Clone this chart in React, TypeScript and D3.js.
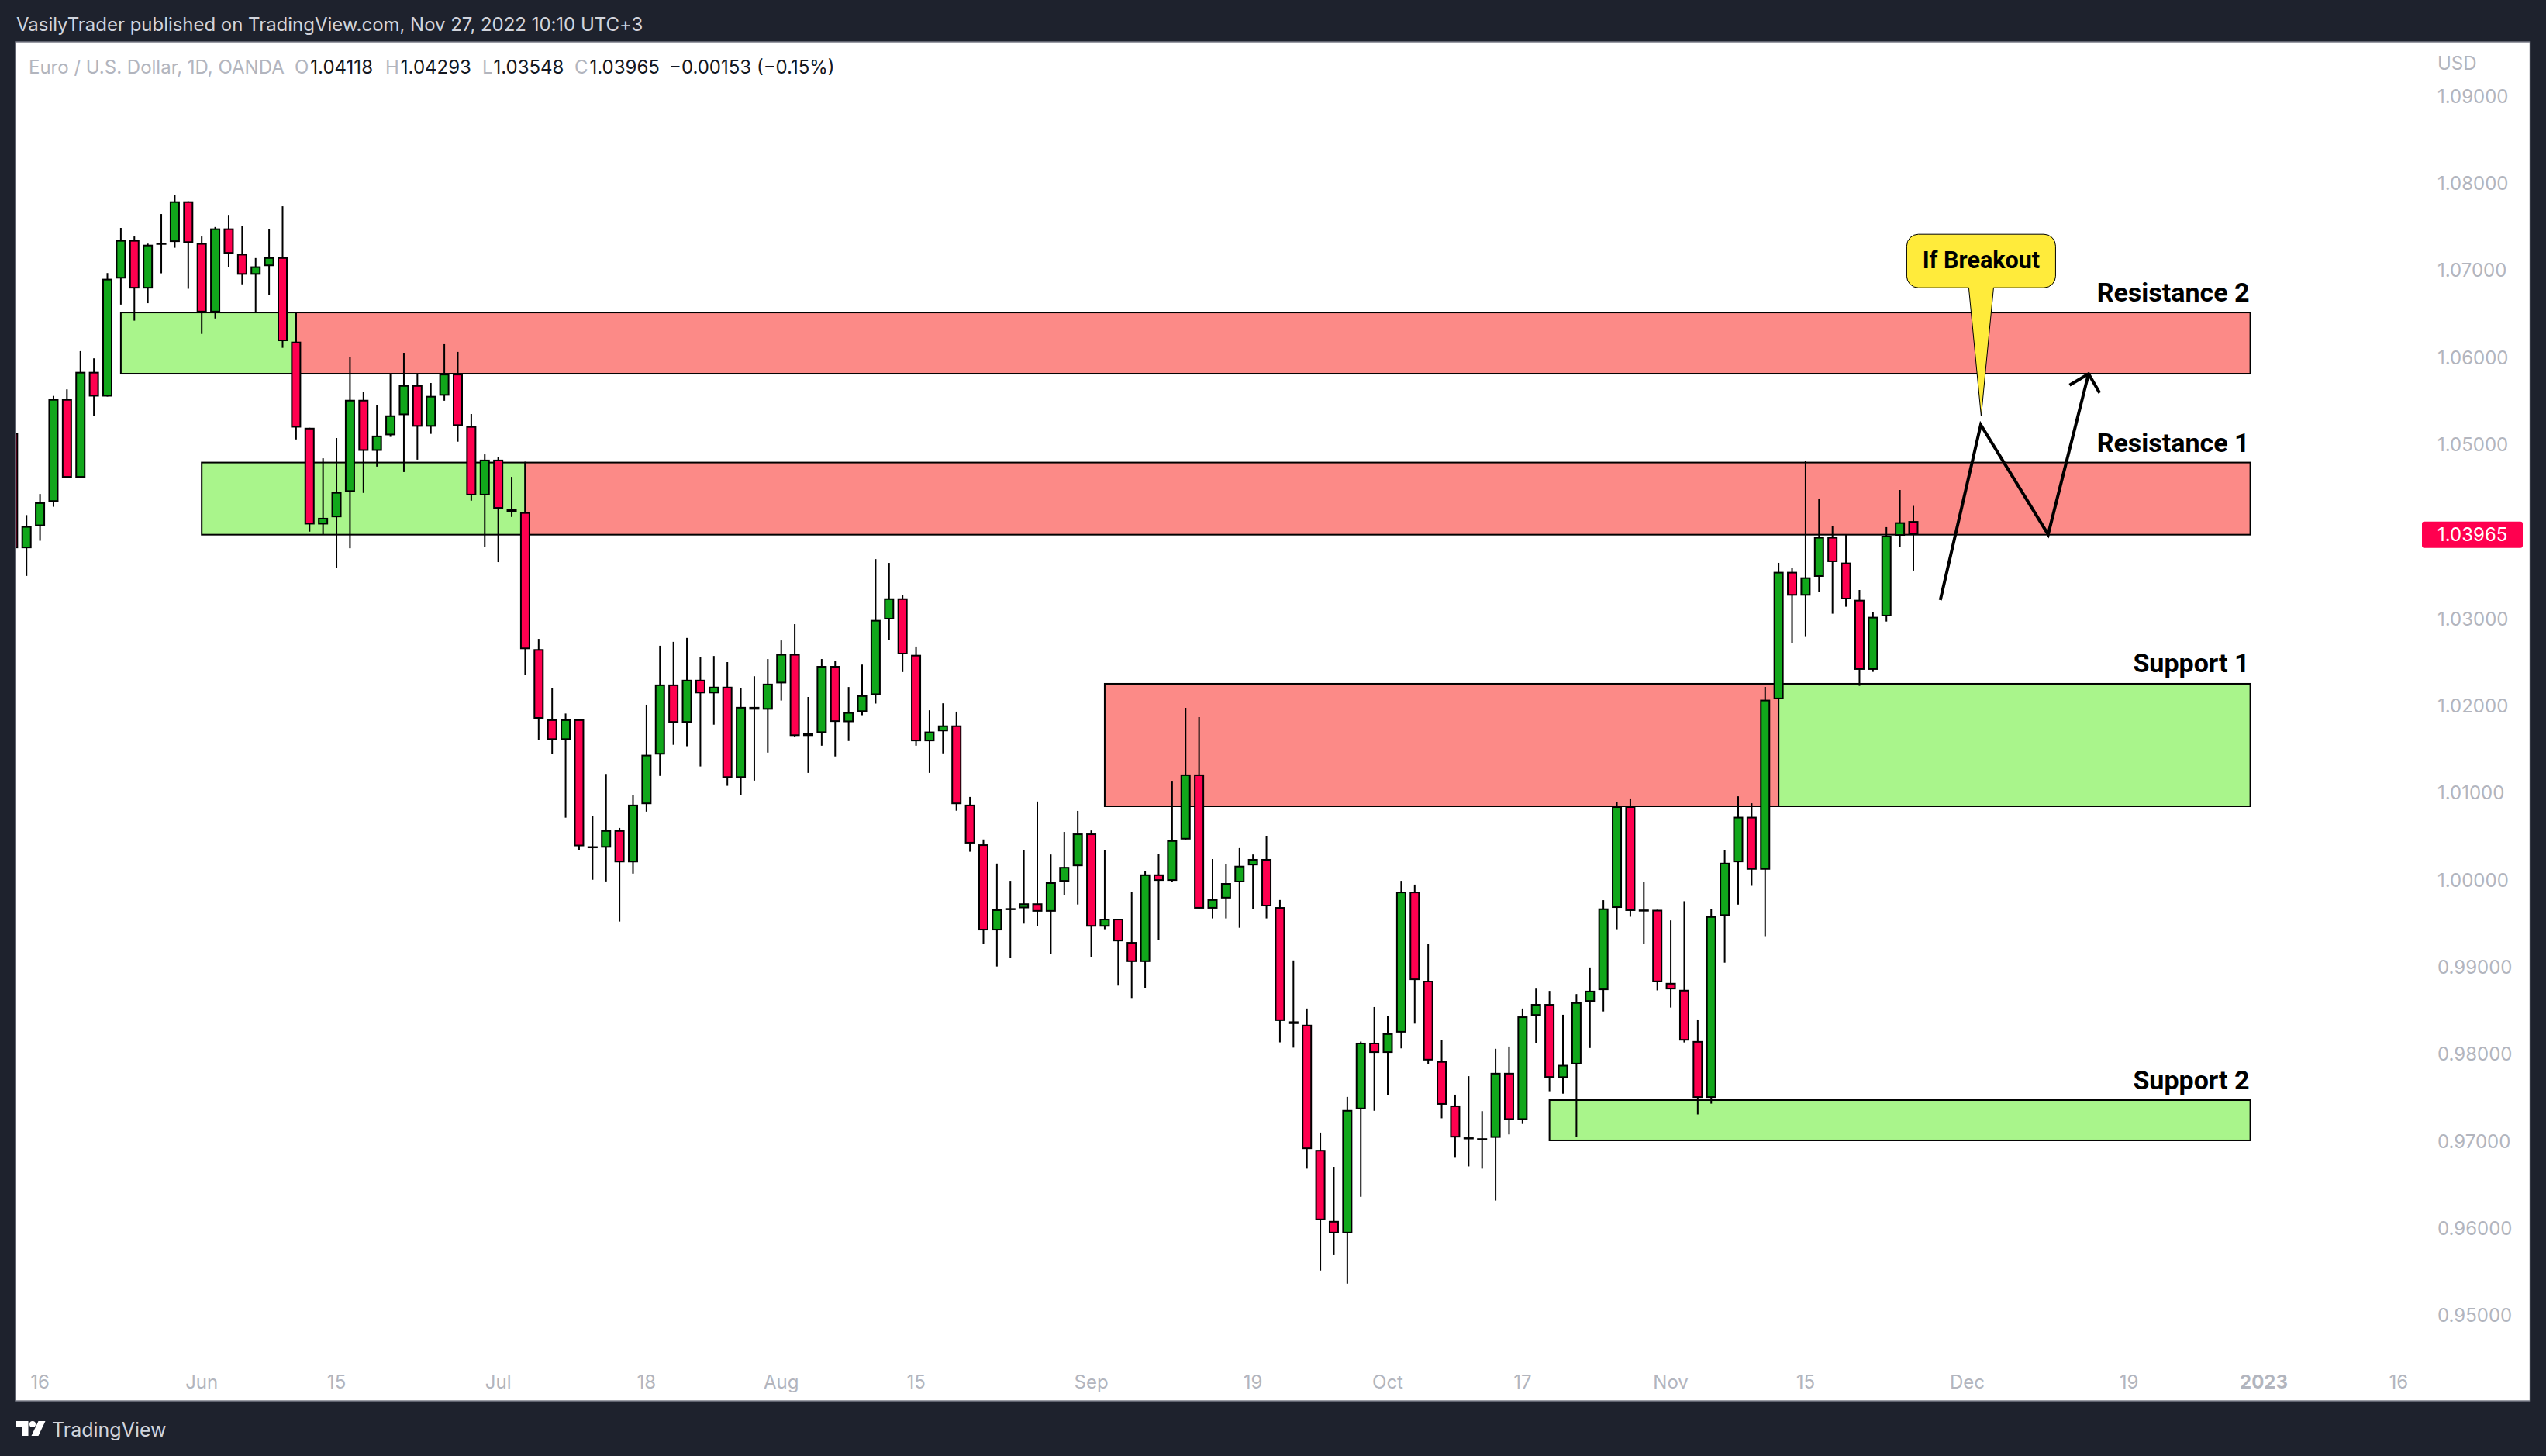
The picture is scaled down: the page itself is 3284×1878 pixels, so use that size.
// EURUSD daily chart with supply / demand zones
import React, { useEffect, useRef } from 'react';
import * as d3 from 'd3';

const WIDTH = 3284;
const HEIGHT = 1878;
const UI_FONT = 'Inter, Roboto, sans-serif';
const LABEL_FONT = 'Roboto, Inter, sans-serif';

// daily candles, first one is only half visible at the left edge (day -1)
const opens = [
  1.05134, 1.03805, 1.0406, 1.0434, 1.05523, 1.04618, 1.05836, 1.05552, 1.06911, 1.07354,
  1.06796, 1.07303, 1.07332, 1.078, 1.07319, 1.06522, 1.07488, 1.07195, 1.06955, 1.07054,
  1.07156, 1.06184, 1.05192, 1.04079, 1.04162, 1.04455, 1.05514, 1.04927, 1.05106, 1.05338,
  1.05683, 1.05205, 1.05562, 1.05814, 1.05211, 1.04414, 1.04825, 1.04254, 1.0422, 1.02643,
  1.01834, 1.01598, 1.01834, 1.00373, 1.00357, 1.00558, 1.00188, 1.00858, 1.01429, 1.02236,
  1.01796, 1.0229, 1.02134, 1.0221, 1.01161, 1.01977, 1.01946, 1.02249, 1.02587, 1.01643,
  1.01678, 1.02449, 1.01802, 1.0192, 1.02115, 1.02985, 1.03228, 1.02577, 1.01582, 1.01697,
  1.01764, 1.00852, 1.00395, 0.99404, 0.9965, 0.99659, 0.99715, 0.9962, 0.99966, 1.00144,
  1.0052, 0.99447, 0.99538, 0.9927, 0.9904, 1.00049, 0.99975, 1.00451, 1.012, 0.99655,
  0.99772, 0.99958, 1.00153, 1.00226, 0.99672, 0.98356, 0.98317, 0.96876, 0.96058, 0.95915,
  0.97344, 0.9811, 0.97993, 0.98227, 0.9985, 0.98824, 0.97898, 0.97387, 0.9702, 0.9701,
  0.97015, 0.97763, 0.97222, 0.98421, 0.98556, 0.97705, 0.97861, 0.98582, 0.98716, 0.99663,
  1.00833, 0.99644, 0.99641, 0.98799, 0.98719, 0.98129, 0.97475, 0.99571, 1.00189, 1.00712,
  1.00103, 1.02066, 1.03533, 1.03259, 1.03476, 1.03935, 1.0364, 1.03211, 1.02405, 1.03021,
  1.03949, 1.04118,
];
const closes = [
  1.03805, 1.0406, 1.04334, 1.05523, 1.04618, 1.05836, 1.05552, 1.06908, 1.07354, 1.06796,
  1.073, 1.07322, 1.078, 1.07322, 1.06522, 1.07488, 1.07198, 1.06955, 1.07051, 1.07156,
  1.0619, 1.05195, 1.04079, 1.04155, 1.04452, 1.05514, 1.04927, 1.05102, 1.05335, 1.05683,
  1.05205, 1.05559, 1.05814, 1.05214, 1.04414, 1.04825, 1.04261, 1.04222, 1.02643, 1.01842,
  1.01598, 1.01834, 1.00373, 1.00354, 1.00558, 1.00188, 1.00852, 1.01426, 1.02236, 1.01796,
  1.0229, 1.02134, 1.0221, 1.01161, 1.01977, 1.01946, 1.02245, 1.02587, 1.01643, 1.01678,
  1.02449, 1.01805, 1.01917, 1.02111, 1.02979, 1.03228, 1.02583, 1.01582, 1.01694, 1.01764,
  1.00858, 1.00405, 0.99404, 0.99646, 0.9966, 0.99715, 0.9962, 0.99958, 1.00135, 1.0052,
  0.99447, 0.99538, 0.99278, 0.9904, 1.00049, 0.99975, 1.00442, 1.012, 0.99655, 0.99763,
  0.99949, 1.00148, 1.00226, 0.99681, 0.98361, 0.98326, 0.96885, 0.96067, 0.95915, 0.97335,
  0.9811, 0.97993, 0.98218, 0.9985, 0.98832, 0.97906, 0.97396, 0.97019, 0.9701, 0.97006,
  0.97763, 0.97222, 0.98413, 0.98556, 0.97707, 0.97855, 0.98576, 0.98709, 0.99657, 1.00833,
  0.99628, 0.99625, 0.98808, 0.98725, 0.98135, 0.97475, 0.99567, 1.00183, 1.00712, 1.00103,
  1.0206, 1.03533, 1.03259, 1.0347, 1.03935, 1.03646, 1.03217, 1.02405, 1.03015, 1.03949,
  1.04104, 1.03965,
];
const highs = [
  1.05134, 1.04187, 1.0443, 1.05559, 1.05635, 1.06075, 1.05992, 1.06974, 1.07494, 1.07395,
  1.07313, 1.07654, 1.07877, 1.078, 1.07395, 1.07504, 1.07644, 1.0752, 1.07147, 1.07485,
  1.07743, 1.06522, 1.05192, 1.04841, 1.05074, 1.06011, 1.0561, 1.05457, 1.05814, 1.06056,
  1.05814, 1.05708, 1.06155, 1.06066, 1.05351, 1.04886, 1.04851, 1.04627, 1.0422, 1.02761,
  1.02197, 1.01901, 1.01834, 1.00724, 1.01206, 1.00584, 1.00967, 1.02003, 1.02682, 1.02727,
  1.02772, 1.02548, 1.02564, 1.02494, 1.02197, 1.02331, 1.02529, 1.02743, 1.02931, 1.02092,
  1.02529, 1.0251, 1.02207, 1.02465, 1.0368, 1.03636, 1.03263, 1.02673, 1.01939, 1.02019,
  1.01923, 1.00941, 1.00451, 1.00174, 0.99975, 1.00326, 1.00888, 1.00278, 1.00538, 1.0078,
  1.00555, 1.00326, 0.99538, 0.9985, 1.00092, 1.00287, 1.01118, 1.01967, 1.0186, 1.00226,
  1.00165, 1.00352, 1.00278, 1.00494, 0.99754, 0.99058, 0.98504, 0.97075, 0.96681, 0.97486,
  0.98123, 0.98521, 0.98421, 0.99975, 0.99932, 0.99244, 0.98144, 0.97512, 0.97725, 0.97322,
  0.9804, 0.98066, 0.98504, 0.98733, 0.98707, 0.98432, 0.98671, 0.98977, 0.99752, 1.00878,
  1.00923, 0.99966, 0.99641, 0.99519, 0.9974, 0.98378, 0.99647, 1.00333, 1.00948, 1.00868,
  1.02208, 1.03637, 1.0358, 1.04815, 1.04378, 1.04065, 1.03961, 1.03324, 1.03074, 1.04048,
  1.04476, 1.04293,
];
const lows = [
  1.03805, 1.03486, 1.03891, 1.04283, 1.04618, 1.04618, 1.05326, 1.05552, 1.06611, 1.06426,
  1.06627, 1.06971, 1.07265, 1.06793, 1.06273, 1.06451, 1.07041, 1.06844, 1.06522, 1.06719,
  1.06113, 1.05058, 1.03996, 1.03958, 1.03581, 1.03805, 1.04442, 1.04745, 1.05087, 1.04682,
  1.04825, 1.05122, 1.05504, 1.05032, 1.04353, 1.03817, 1.03645, 1.04165, 1.02345, 1.01601,
  1.01435, 1.00702, 1.00326, 0.99987, 0.99968, 0.99506, 1.00058, 1.00772, 1.01183, 1.01541,
  1.01525, 1.01292, 1.01773, 1.01069, 1.0096, 1.01129, 1.01451, 1.02051, 1.0163, 1.01218,
  1.01531, 1.01407, 1.01585, 1.01882, 1.02016, 1.02746, 1.02379, 1.01531, 1.01218, 1.01442,
  1.00782, 1.0031, 0.99248, 0.98988, 0.99083, 0.99482, 0.99456, 0.99131, 0.99811, 0.99702,
  0.99096, 0.99417, 0.98768, 0.98625, 0.98737, 0.99291, 0.99958, 1.00451, 0.99655, 0.99542,
  0.99542, 0.99434, 0.9965, 0.99542, 0.98114, 0.98053, 0.9666, 0.95487, 0.95664, 0.95335,
  0.96335, 0.97326, 0.97508, 0.98045, 0.9833, 0.97863, 0.9724, 0.96794, 0.96686, 0.9666,
  0.96292, 0.97054, 0.97175, 0.9811, 0.97551, 0.97523, 0.97022, 0.98049, 0.9847, 0.99417,
  0.99561, 0.99248, 0.98713, 0.98515, 0.98113, 0.97284, 0.97408, 0.99032, 0.99701, 0.99918,
  0.99338, 1.02066, 1.02711, 1.02792, 1.03301, 1.03051, 1.03131, 1.0222, 1.02381, 1.02961,
  1.03818, 1.03548,
];
const FIRST_DAY = -1;

// drawn zones: start day, end day, top price, bottom price, buy or sell colour
const zoneStarts = [7, 20, 13, 37, 80, 130, 113];
const zoneEnds = [20, 165, 37, 165, 130, 165, 165];
const zoneTops = [1.0652, 1.0652, 1.04792, 1.04792, 1.02244, 1.02244, 0.97449];
const zoneBottoms = [1.05815, 1.05815, 1.03961, 1.03961, 1.00833, 1.00833, 0.96985];
const zoneKinds = ['buy', 'sell', 'buy', 'sell', 'sell', 'buy', 'buy'];

const zoneLabels = ['Resistance 2', 'Resistance 1', 'Support 1', 'Support 2'];
const zoneLabelPrices = [1.06755, 1.05021, 1.02485, 0.97686];

// hand drawn forecast path
const pathDays = [142, 145, 150, 153];
const pathPrices = [1.03208, 1.05226, 1.03964, 1.05813];
const arrowDays = [151.59, 153, 153.82];
const arrowPrices = [1.05684, 1.05813, 1.05595];

const calloutDay = 145.03;
const calloutPrice = 1.05327;
const calloutText = 'If Breakout';

const priceTicks = [1.09, 1.08, 1.07, 1.06, 1.05, 1.03, 1.02, 1.01, 1.0, 0.99, 0.98, 0.97, 0.96, 0.95];
const lastPrice = 1.03965;

const timeTickDays = [1, 13, 23, 35, 46, 56, 66, 79, 91, 101, 111, 122, 132, 144, 156, 166, 176];
const timeTickLabels = ['16', 'Jun', '15', 'Jul', '18', 'Aug', '15', 'Sep', '19', 'Oct', '17', 'Nov', '15', 'Dec', '19', '2023', '16'];

const publishedText = 'VasilyTrader published on TradingView.com, Nov 27, 2022 10:10 UTC+3';
const symbolText = 'Euro / U.S. Dollar, 1D, OANDA';
const ohlcLetters = ['O', 'H', 'L', 'C'];
const ohlcValues = ['1.04118', '1.04293', '1.03548', '1.03965'];
const changeText = '\u22120.00153 (\u22120.15%)';

const COLORS = {
  frame: '#1e222d',
  border: '#787b86',
  axis: '#b2b5be',
  up: '#11a71b',
  down: '#ff004f',
  buy: '#a9f58b',
  sell: '#fc8a87',
  callout: '#ffeb3b',
};

const App: React.FC = () => {
  const svgRef = useRef<SVGSVGElement>(null);

  useEffect(() => {
    const svg = d3.select(svgRef.current);
    svg.selectAll('*').remove();

    const panel = { left: 20, top: 54, right: 3263.5, bottom: 1807 };

    // Scales
    const x = d3.scaleLinear().domain([0, 165]).range([34.2, 2902.6]);
    const y = d3.scaleLinear().domain([1.09, 0.95]).range([125.3, 1693.3]);
    // the axis labels run on a slightly wider spacing than the candle readings
    const yAxisScale = d3.scaleLinear().domain([1.09, 0.95]).range([125, 1697.7]);

    // Frame and panel
    svg.append('rect').attr('width', WIDTH).attr('height', HEIGHT).attr('fill', COLORS.frame);
    svg.append('rect')
      .attr('x', panel.left)
      .attr('y', panel.top)
      .attr('width', panel.right - panel.left)
      .attr('height', panel.bottom - panel.top)
      .attr('fill', '#fff')
      .attr('stroke', COLORS.border)
      .attr('stroke-width', 1.5);

    svg.append('clipPath')
      .attr('id', 'panel-clip')
      .append('rect')
      .attr('x', panel.left + 1)
      .attr('y', panel.top)
      .attr('width', panel.right - panel.left)
      .attr('height', panel.bottom - panel.top);

    const plot = svg.append('g').attr('clip-path', 'url(#panel-clip)');

    // Zones sit behind the candles
    plot.selectAll('.zone')
      .data(zoneStarts.map((_, i) => i))
      .enter()
      .append('rect')
      .attr('class', 'zone')
      .attr('x', i => x(zoneStarts[i]))
      .attr('y', i => y(zoneTops[i]))
      .attr('width', i => x(zoneEnds[i]) - x(zoneStarts[i]))
      .attr('height', i => y(zoneBottoms[i]) - y(zoneTops[i]))
      .attr('fill', i => (zoneKinds[i] === 'buy' ? COLORS.buy : COLORS.sell))
      .attr('stroke', '#000')
      .attr('stroke-width', 2);

    // Candles
    const candles = plot.selectAll('.candle')
      .data(opens.map((_, i) => i))
      .enter()
      .append('g')
      .attr('class', 'candle')
      .attr('transform', i => `translate(${x(i + FIRST_DAY)}, 0)`);

    candles.append('line')
      .attr('y1', i => y(highs[i]))
      .attr('y2', i => y(lows[i]))
      .attr('stroke', '#000')
      .attr('stroke-width', 2);

    candles.append('rect')
      .attr('x', -5.5)
      .attr('width', 11)
      .attr('y', i => y(Math.max(opens[i], closes[i])) + 1)
      .attr('height', i => Math.max(0.5, Math.abs(y(opens[i]) - y(closes[i])) - 2))
      .attr('fill', i => (closes[i] >= opens[i] ? COLORS.up : COLORS.down))
      .attr('stroke', '#000')
      .attr('stroke-width', 2);

    // Forecast path and arrow head
    const pathLine = d3.line<[number, number]>()
      .x(d => x(d[0]))
      .y(d => y(d[1]));

    plot.append('path')
      .attr('d', pathLine(pathDays.map((d, i) => [d, pathPrices[i]] as [number, number])))
      .attr('fill', 'none')
      .attr('stroke', '#000')
      .attr('stroke-width', 4);

    plot.append('path')
      .attr('d', pathLine(arrowDays.map((d, i) => [d, arrowPrices[i]] as [number, number])))
      .attr('fill', 'none')
      .attr('stroke', '#000')
      .attr('stroke-width', 4);

    // Zone labels
    plot.selectAll('.zone-label')
      .data(zoneLabels)
      .enter()
      .append('text')
      .attr('class', 'zone-label')
      .attr('x', x(165) - 1)
      .attr('y', (_, i) => y(zoneLabelPrices[i]))
      .attr('dy', '0.36em')
      .attr('text-anchor', 'end')
      .style('font-family', LABEL_FONT)
      .style('font-weight', 700)
      .style('font-size', '34px')
      .style('fill', '#000')
      .text(d => d);

    // Callout with a long tail down to the forecast peak
    const tipX = x(calloutDay);
    const tipY = y(calloutPrice);
    const box = { left: tipX - 96, right: tipX + 96, top: tipY - 234.5, bottom: tipY - 165.5, r: 15 };
    const callout = d3.path();
    callout.moveTo(box.left + box.r, box.top);
    callout.arcTo(box.right, box.top, box.right, box.top + box.r, box.r);
    callout.arcTo(box.right, box.bottom, box.right - box.r, box.bottom, box.r);
    callout.lineTo(tipX + 16, box.bottom);
    callout.lineTo(tipX, tipY);
    callout.lineTo(tipX - 16, box.bottom);
    callout.arcTo(box.left, box.bottom, box.left, box.bottom - box.r, box.r);
    callout.arcTo(box.left, box.top, box.left + box.r, box.top, box.r);
    callout.closePath();

    plot.append('path')
      .attr('d', callout.toString())
      .attr('fill', COLORS.callout)
      .attr('stroke', '#000')
      .attr('stroke-width', 1);

    plot.append('text')
      .attr('x', tipX)
      .attr('y', (box.top + box.bottom) / 2)
      .attr('dy', '0.31em')
      .attr('text-anchor', 'middle')
      .style('font-family', LABEL_FONT)
      .style('font-weight', 700)
      .style('font-size', '30.5px')
      .style('fill', '#000')
      .text(calloutText);

    // Price axis
    const priceAxis = d3.axisRight(yAxisScale)
      .tickValues(priceTicks)
      .tickFormat(d => (d as number).toFixed(5))
      .tickSize(0)
      .tickPadding(0)
      .offset(0);

    const priceGroup = svg.append('g')
      .attr('transform', 'translate(3144, 0)')
      .call(priceAxis);
    priceGroup.select('.domain').remove();
    priceGroup.selectAll('text')
      .style('font-family', UI_FONT)
      .style('font-size', '24px')
      .style('fill', COLORS.axis);

    svg.append('text')
      .attr('x', 3144)
      .attr('y', 81)
      .attr('dy', '0.36em')
      .style('font-family', UI_FONT)
      .style('font-size', '24px')
      .style('fill', COLORS.axis)
      .text('USD');

    // Last price tag
    svg.append('rect')
      .attr('x', 3124)
      .attr('y', y(lastPrice) - 16.5)
      .attr('width', 130)
      .attr('height', 34)
      .attr('rx', 3)
      .attr('fill', COLORS.down);

    svg.append('text')
      .attr('x', 3144)
      .attr('y', y(lastPrice) + 0.5)
      .attr('dy', '0.36em')
      .style('font-family', UI_FONT)
      .style('font-size', '24px')
      .style('fill', '#fff')
      .text(lastPrice.toFixed(5));

    // Time axis
    const timeAxis = d3.axisBottom(x)
      .tickValues(timeTickDays)
      .tickFormat((_, i) => timeTickLabels[i])
      .tickSize(0)
      .tickPadding(0)
      .offset(0);

    const timeGroup = svg.append('g')
      .attr('transform', 'translate(0, 1774)')
      .call(timeAxis);
    timeGroup.select('.domain').remove();
    timeGroup.selectAll('text')
      .style('font-family', UI_FONT)
      .style('font-size', '24px')
      .style('font-weight', (_, i) => (timeTickLabels[i] === '2023' ? 700 : 400))
      .style('fill', COLORS.axis);

    // Header
    svg.append('text')
      .attr('x', 21)
      .attr('y', 40)
      .style('font-family', UI_FONT)
      .style('font-size', '24px')
      .style('letter-spacing', '-0.03px')
      .style('fill', '#d1d4dc')
      .text(publishedText);

    // Legend line
    const legend = svg.append('text')
      .attr('y', 94.5)
      .style('font-family', UI_FONT)
      .style('font-size', '24px');
    legend.append('tspan').attr('x', 37).style('fill', COLORS.axis).text(symbolText);
    const letterX = [380, 497, 622, 741];
    ohlcLetters.forEach((letter, i) => {
      legend.append('tspan').attr('x', letterX[i]).style('fill', COLORS.axis).text(letter);
      legend.append('tspan').attr('dx', 2).style('fill', '#131722').text(ohlcValues[i]);
    });
    legend.append('tspan').attr('x', 863).style('fill', '#131722').text(changeText);

    // TradingView mark
    const logo = svg.append('g').attr('transform', 'translate(20.5, 1833)').attr('fill', '#fff');
    logo.append('path').attr('d', 'M0 0H16V19H8V8H0Z');
    logo.append('circle').attr('cx', 21.5).attr('cy', 4).attr('r', 4);
    logo.append('path').attr('d', 'M29 0H38L29 19H20Z');

    svg.append('text')
      .attr('x', 67)
      .attr('y', 1853)
      .style('font-family', UI_FONT)
      .style('font-size', '25px')
      .style('fill', '#d1d4dc')
      .text('TradingView');
  }, []);

  return (
    <svg
      ref={svgRef}
      width={WIDTH}
      height={HEIGHT}
      style={{ position: 'fixed', left: 0, top: 0, display: 'block' }}
    />
  );
};

export default App;
